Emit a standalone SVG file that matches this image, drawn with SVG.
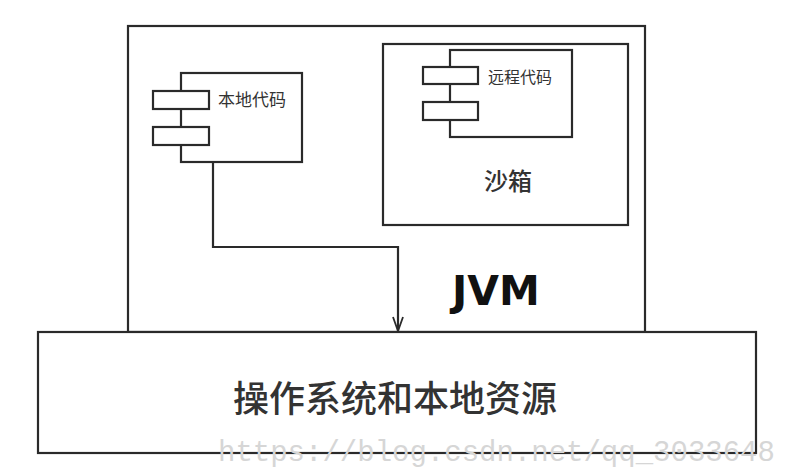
<svg xmlns="http://www.w3.org/2000/svg" width="790" height="474" viewBox="0 0 790 474">
<style>
.box{fill:#fff;stroke:#2a2a2a;stroke-width:2.2}
.cjk{font-family:"Noto Sans CJK SC","Noto Sans",sans-serif;fill:#333}
.wire{fill:none;stroke:#2a2a2a;stroke-width:2.2}
</style>
<defs>
<marker id="arr" viewBox="0 0 16 12" refX="15" refY="6" markerWidth="16" markerHeight="12" markerUnits="userSpaceOnUse" orient="auto">
<path d="M1,1 L15,6 L1,11" fill="none" stroke="#2a2a2a" stroke-width="1.8"/>
</marker>
</defs>
<rect width="790" height="474" fill="#fff"/>
<g id="jvm">
<rect class="box" x="128" y="26" width="517" height="306"/>
<text x="496" y="305" text-anchor="middle" font-family="DejaVu Sans" font-weight="bold" font-size="41" fill="#111">JVM</text>
</g>
<g id="sandbox">
<rect class="box" x="383" y="44" width="245" height="181"/>
<text class="cjk" x="508" y="190" text-anchor="middle" font-size="24" font-weight="500" fill="#222">沙箱</text>
</g>
<g id="remote">
<rect class="box" x="450" y="50" width="122" height="87"/>
<rect class="box" x="423" y="67" width="55" height="17"/>
<rect class="box" x="423" y="102" width="55" height="18"/>
<text class="cjk" x="488" y="83" font-size="16" fill="#555">远程代码</text>
</g>
<g id="local">
<rect class="box" x="181" y="73" width="121" height="89"/>
<rect class="box" x="153" y="91" width="56" height="18"/>
<rect class="box" x="153" y="127" width="56" height="18"/>
<text class="cjk" x="218" y="106" font-size="17" fill="#555">本地代码</text>
</g>
<g id="os">
<rect class="box" x="38" y="332" width="718" height="121"/>
<text class="cjk" x="395" y="412" text-anchor="middle" font-size="36" font-weight="500" fill="#222">操作系统和本地资源</text>
</g>
<g id="connectors">
<path class="wire" d="M213,162 V247 H398 V331" marker-end="url(#arr)"/>
</g>
<text x="218" y="461" font-family="Liberation Mono" font-size="29" fill="#d6d6d6">https://blog.csdn.net/qq_3033648</text>
</svg>
